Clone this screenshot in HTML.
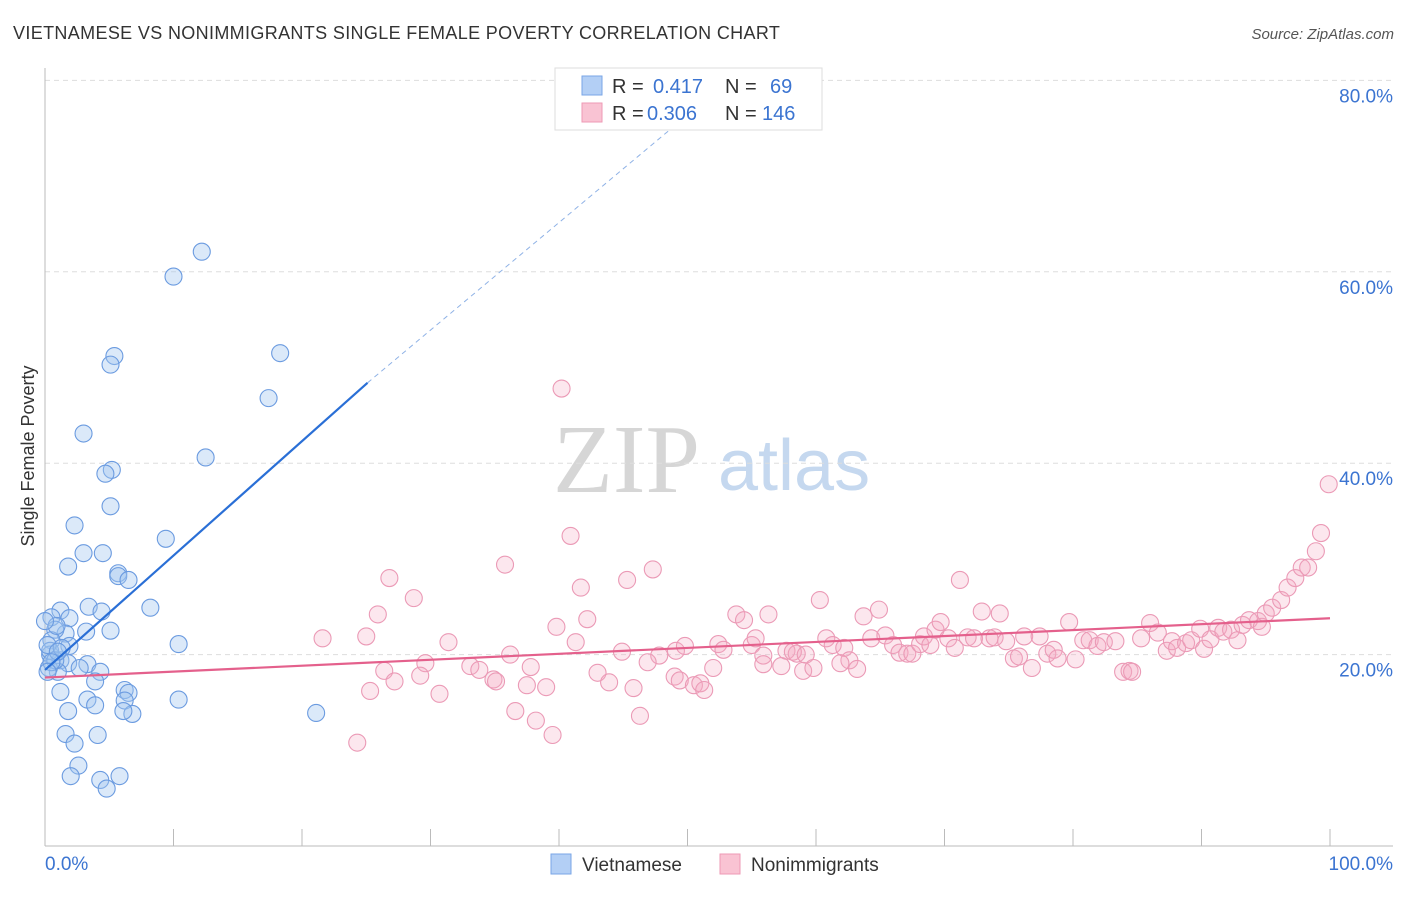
<!DOCTYPE html>
<html><head><meta charset="utf-8"><style>
body{margin:0;background:#fff;width:1406px;height:892px;overflow:hidden;font-family:"Liberation Sans",sans-serif}
</style></head><body>
<svg id="chart" width="1406" height="892" xmlns="http://www.w3.org/2000/svg" font-family="Liberation Sans, sans-serif">
<text x="13" y="39" font-size="18" fill="#333" letter-spacing="0.35">VIETNAMESE VS NONIMMIGRANTS SINGLE FEMALE POVERTY CORRELATION CHART</text>
<text x="1394" y="39" font-size="15" fill="#555" text-anchor="end" font-style="italic">Source: ZipAtlas.com</text>
<g>
<text x="553" y="492" font-size="98" font-family="Liberation Serif, serif" fill="#d6d6d6">ZIP</text>
<text x="718" y="490" font-size="72" fill="#c5d8ef">atlas</text>
</g>
<g id="grid"></g>
<g id="axes"></g>
<g id="pts"></g>
<g id="trends"></g>
<text transform="translate(34,456) rotate(-90)" font-size="18" fill="#333" text-anchor="middle">Single Female Poverty</text>
<g>
<rect x="555" y="68" width="267" height="62" fill="#fff" stroke="#ddd"/>
<rect x="582" y="76" width="20" height="19" fill="#b3cff5" stroke="#7aa6e6"/>
<rect x="582" y="103" width="20" height="19" fill="#f9c3d3" stroke="#ee9ab5"/>
<text x="612" y="93" font-size="20" fill="#333">R = </text><text x="653" y="93" font-size="20" fill="#3b74d1">0.417</text>
<text x="725" y="93" font-size="20" fill="#333">N = </text><text x="770" y="93" font-size="20" fill="#3b74d1">69</text>
<text x="612" y="120" font-size="20" fill="#333">R = </text><text x="647" y="120" font-size="20" fill="#3b74d1">0.306</text>
<text x="725" y="120" font-size="20" fill="#333">N = </text><text x="762" y="120" font-size="20" fill="#3b74d1">146</text>
</g>
<g>
<rect x="551" y="854" width="20" height="20" fill="#b3cff5" stroke="#7aa6e6"/>
<text x="582" y="871" font-size="19" fill="#333">Vietnamese</text>
<rect x="720" y="854" width="20" height="20" fill="#f9c3d3" stroke="#ee9ab5"/>
<text x="751" y="871" font-size="19" fill="#333">Nonimmigrants</text>
</g>
</svg>
<script>
const xTicks=[0,10,20,30,40,50,60,70,80,90,100];
const yTicks=[20,40,60,80];
const blueX=[12.2,10.0,5.4,5.1,18.3,17.4,12.5,3.0,5.2,4.7,5.1,2.3,9.4,3.0,4.5,1.8,5.7,5.7,6.5,3.4,8.2,4.4,1.2,1.9,0.5,5.1,3.2,1.6,0.8,10.4,1.9,0.5,0.4,1.2,3.3,1.8,2.7,4.3,1.0,0.3,3.9,1.2,6.2,6.5,3.3,1.8,3.9,6.2,6.8,6.1,10.4,21.1,1.6,4.1,2.3,2.6,2.0,4.3,5.8,4.8,0.4,0.8,0.2,1.3,1.0,0.5,0.2,0.9,0.0];
const blueY=[62.1,59.5,51.2,50.3,51.5,46.8,40.6,43.1,39.3,38.9,35.5,33.5,32.1,30.6,30.6,29.2,28.5,28.2,27.8,25.0,24.9,24.5,24.6,23.8,23.9,22.5,22.4,22.2,22.6,21.1,20.9,21.5,20.0,19.4,19.0,19.1,18.6,18.2,18.2,18.6,17.2,16.1,16.3,16.0,15.3,14.1,14.7,15.2,13.8,14.1,15.3,13.9,11.7,11.6,10.7,8.4,7.3,6.9,7.3,6.0,20.4,19.4,21.0,20.7,20.3,19.2,18.2,23.0,23.5];
const pinkX=[40.2,40.9,35.8,26.8,28.7,25.9,25.0,21.6,31.4,26.4,27.2,29.6,29.2,25.3,30.7,24.3,33.1,33.8,34.9,35.1,36.2,37.8,37.5,39.0,36.6,38.2,39.5,39.8,41.3,42.2,41.7,45.3,47.3,43.0,43.9,44.9,45.8,46.3,47.8,46.9,49.1,49.8,49.0,49.4,50.5,51.0,51.3,52.0,52.4,52.8,53.8,54.4,55.0,55.3,55.9,56.3,55.9,57.3,57.7,58.5,58.2,59.2,59.0,59.8,60.3,60.8,61.3,62.2,62.6,61.9,63.2,63.7,64.3,64.9,65.4,66.0,66.5,67.1,67.5,68.1,68.4,68.9,69.3,69.7,70.3,70.8,71.2,71.8,72.3,72.9,73.5,73.9,74.3,74.8,75.4,75.8,76.2,76.8,77.4,78.0,78.5,78.8,79.7,80.2,80.8,81.3,81.9,82.4,83.3,83.9,84.4,84.6,85.3,86.0,86.6,87.3,87.7,88.1,88.8,89.2,89.9,90.2,90.7,91.3,91.7,92.3,92.8,93.2,93.7,94.4,94.7,95.0,95.5,96.2,96.7,97.3,97.8,98.3,98.9,99.3,99.9];
const pinkY=[47.8,32.4,29.4,28.0,25.9,24.2,21.9,21.7,21.3,18.3,17.2,19.1,17.8,16.2,15.9,10.8,18.8,18.4,17.4,17.2,20.0,18.7,16.8,16.6,14.1,13.1,11.6,22.9,21.3,23.7,27.0,27.8,28.9,18.1,17.1,20.3,16.5,13.6,19.9,19.2,20.4,20.9,17.7,17.3,16.8,17.0,16.3,18.6,21.1,20.5,24.2,23.6,21.0,21.7,19.9,24.2,19.0,18.8,20.4,20.1,20.3,20.0,18.3,18.6,25.7,21.7,21.0,20.7,19.4,19.1,18.5,24.0,21.7,24.7,22.0,21.0,20.2,20.1,20.1,21.1,21.9,21.0,22.6,23.4,21.7,20.7,27.8,21.8,21.7,24.5,21.7,21.8,24.3,21.4,19.6,19.8,21.9,18.6,21.9,20.1,20.5,19.6,23.4,19.5,21.5,21.5,20.9,21.3,21.4,18.2,18.3,18.2,21.7,23.3,22.3,20.4,21.4,20.7,21.2,21.5,22.7,20.6,21.6,22.8,22.4,22.6,21.5,23.1,23.6,23.5,22.9,24.3,24.9,25.7,27.0,28.0,29.1,29.1,30.8,32.7,37.8];
const blueTrend=[[0,18.4],[25.1,48.4],[49.3,75.6]];
const pinkTrend=[[0,17.6],[100,23.8]];
const NS='http://www.w3.org/2000/svg';
const X=v=>45+v*12.85, Y=v=>846-v*9.57;
function mk(t,a,p){const e=document.createElementNS(NS,t);for(const k in a)e.setAttribute(k,a[k]);p.appendChild(e);return e;}
const grid=document.getElementById('grid'),axes=document.getElementById('axes'),pts=document.getElementById('pts'),tr=document.getElementById('trends');
yTicks.forEach(v=>{
 const l=mk('line',{x1:45,x2:1393,y1:Y(v),y2:Y(v),stroke:'#ddd','stroke-dasharray':'5,4'},grid);
 
 
 const t=mk('text',{x:1393,y:Y(v)+22,'font-size':19,fill:'#3b74d1','text-anchor':'end'},grid);
 t.textContent=v.toFixed(1)+'%';
 
 
});
const ax=mk('line',{x1:45,x2:1393,y1:846,y2:846,stroke:'#bbb'},axes);


const ay=mk('line',{x1:45,x2:45,y1:68,y2:846,stroke:'#bbb'},axes);


xTicks.forEach(v=>{
 const l=mk('line',{x1:X(v),x2:X(v),y1:829,y2:846,stroke:'#bbb'},axes);
 
 
});
[[0,'start'],[100,'end']].forEach(([v,a])=>{
 const t=mk('text',{x:v===0?45:1393,y:870,'font-size':19,fill:'#3b74d1','text-anchor':a},axes);
 t.textContent=v.toFixed(1)+'%';
 
 
});
pinkX.forEach((x,i)=>{
 const c=mk('circle',{cx:X(x),cy:Y(pinkY[i]),r:8.5,fill:'rgba(245,170,195,0.28)',stroke:'#eb9ab6','stroke-width':1.1},pts);
 
 
});
blueX.forEach((x,i)=>{
 const c=mk('circle',{cx:X(x),cy:Y(blueY[i]),r:8.5,fill:'rgba(160,196,240,0.38)',stroke:'#6b9be0','stroke-width':1.1},pts);
 
 
});
const b1=mk('line',{x1:X(blueTrend[0][0]),y1:Y(blueTrend[0][1]),x2:X(blueTrend[1][0]),y2:Y(blueTrend[1][1]),stroke:'#2a6fd6','stroke-width':2.2},tr);


const b2=mk('line',{x1:X(blueTrend[1][0]),y1:Y(blueTrend[1][1]),x2:X(blueTrend[2][0]),y2:Y(blueTrend[2][1]),stroke:'#8fb2e6','stroke-width':1,'stroke-dasharray':'5,4'},tr);


const p1=mk('line',{x1:X(pinkTrend[0][0]),y1:Y(pinkTrend[0][1]),x2:X(pinkTrend[1][0]),y2:Y(pinkTrend[1][1]),stroke:'#e4608c','stroke-width':2.2},tr);


</script>
</body></html>
